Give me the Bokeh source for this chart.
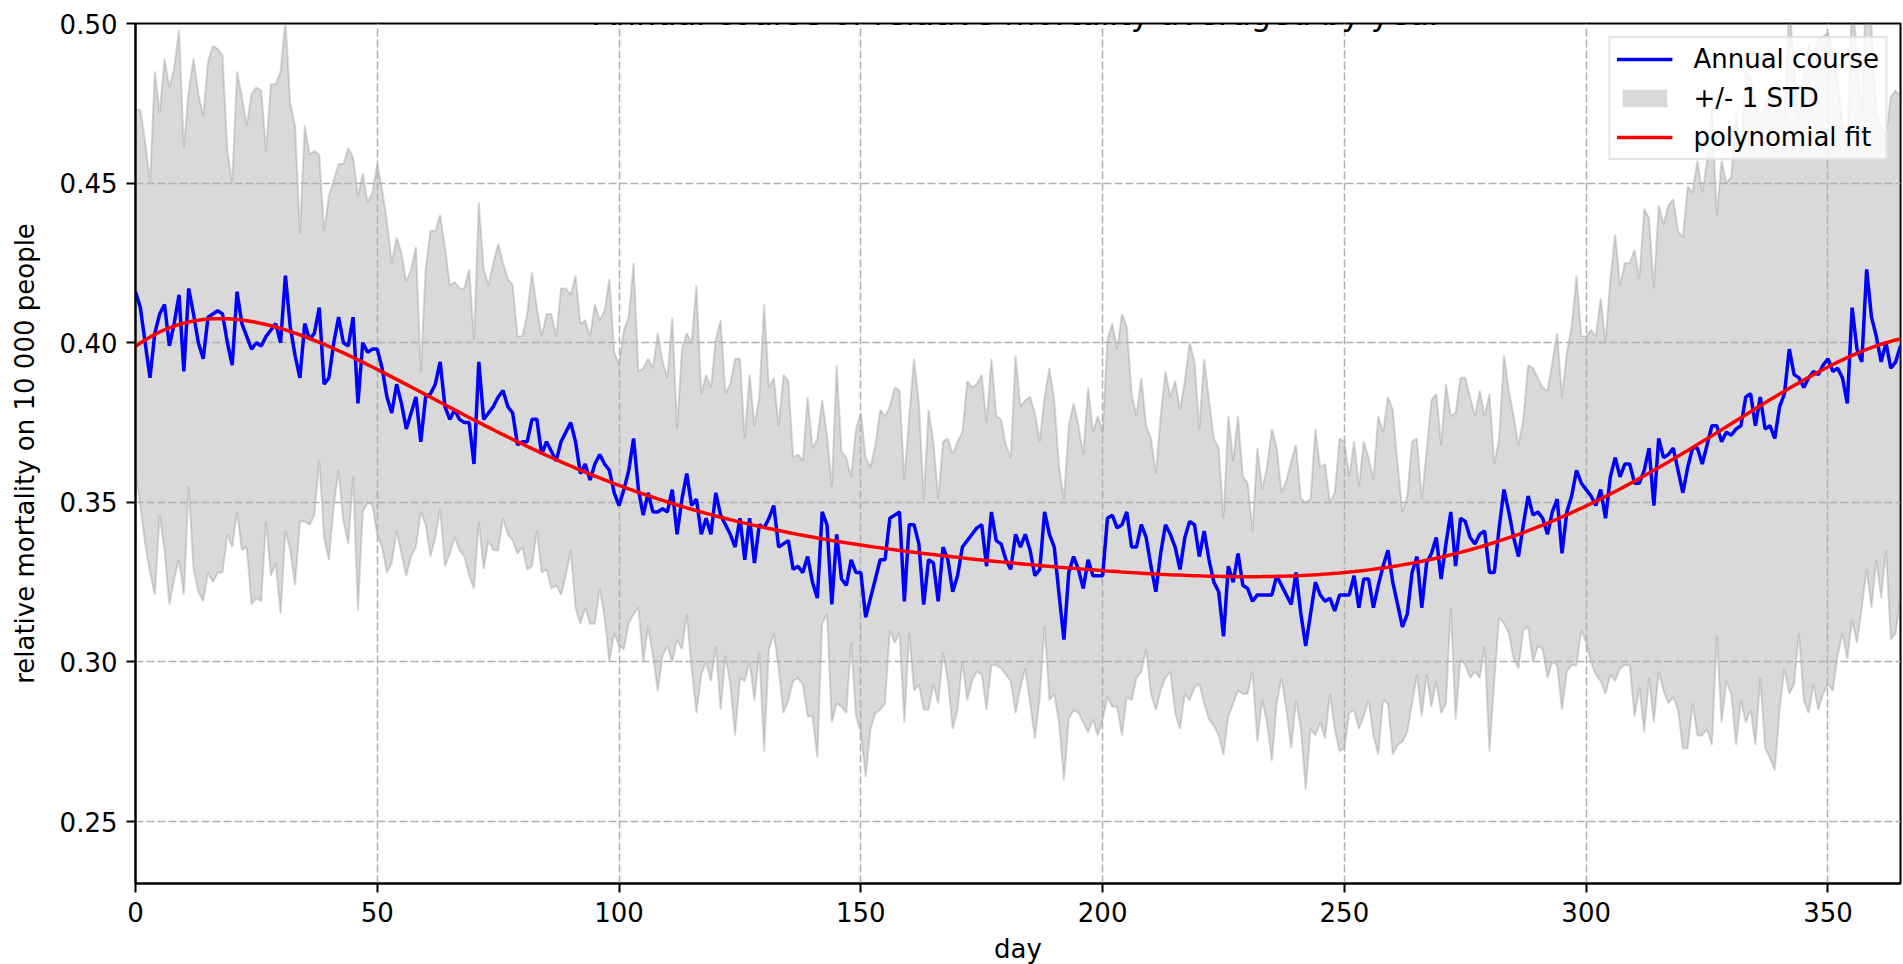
import numpy as np
from bokeh.plotting import figure
from bokeh.models import Label, Legend, LegendItem, FixedTicker
from bokeh.embed import file_html
from bokeh.resources import INLINE

# Day of year (0..365)
days = list(range(366))

# Mean relative mortality per day (per 10 000 people), averaged over years
mortality_mean = [
    0.416, 0.411, 0.400, 0.389, 0.403, 0.409, 0.412, 0.399, 0.406, 0.415,
    0.391, 0.417, 0.409, 0.400, 0.395, 0.408, 0.409, 0.410, 0.409, 0.400,
    0.393, 0.416, 0.406, 0.402, 0.398, 0.400, 0.399, 0.402, 0.404, 0.406,
    0.400, 0.421, 0.405, 0.396, 0.389, 0.406, 0.401, 0.403, 0.411, 0.387,
    0.389, 0.400, 0.408, 0.400, 0.399, 0.408, 0.381, 0.400, 0.397, 0.398,
    0.398, 0.392, 0.383, 0.378, 0.387, 0.381, 0.373, 0.378, 0.383, 0.369,
    0.383, 0.384, 0.387, 0.394, 0.380, 0.376, 0.379, 0.376, 0.375, 0.375,
    0.362, 0.394, 0.376, 0.378, 0.380, 0.383, 0.385, 0.380, 0.378, 0.368,
    0.369, 0.369, 0.376, 0.376, 0.365, 0.369, 0.366, 0.363, 0.369, 0.372,
    0.375, 0.369, 0.359, 0.362, 0.357, 0.362, 0.365, 0.362, 0.360, 0.353,
    0.349, 0.354, 0.360, 0.370, 0.354, 0.346, 0.353, 0.347, 0.347, 0.348,
    0.347, 0.354, 0.340, 0.351, 0.359, 0.349, 0.351, 0.340, 0.345, 0.340,
    0.353, 0.346, 0.343, 0.340, 0.336, 0.345, 0.332, 0.345, 0.331, 0.343,
    0.342, 0.345, 0.349, 0.336, 0.337, 0.338, 0.329, 0.330, 0.328, 0.333,
    0.325, 0.320, 0.347, 0.343, 0.318, 0.340, 0.326, 0.324, 0.332, 0.328,
    0.328, 0.314, 0.320, 0.326, 0.332, 0.332, 0.345, 0.346, 0.347, 0.319,
    0.343, 0.343, 0.337, 0.318, 0.332, 0.331, 0.319, 0.336, 0.332, 0.322,
    0.327, 0.336, 0.338, 0.340, 0.342, 0.343, 0.330, 0.347, 0.338, 0.337,
    0.332, 0.329, 0.340, 0.336, 0.340, 0.335, 0.327, 0.329, 0.347, 0.340,
    0.336, 0.321, 0.307, 0.328, 0.333, 0.329, 0.323, 0.332, 0.327, 0.327,
    0.327, 0.345, 0.346, 0.342, 0.343, 0.347, 0.336, 0.336, 0.343, 0.339,
    0.330, 0.322, 0.334, 0.343, 0.340, 0.336, 0.329, 0.339, 0.344, 0.343,
    0.333, 0.341, 0.332, 0.325, 0.322, 0.308, 0.330, 0.325, 0.334, 0.324,
    0.323, 0.319, 0.321, 0.321, 0.321, 0.321, 0.327, 0.324, 0.321, 0.318,
    0.328, 0.315, 0.305, 0.315, 0.325, 0.321, 0.319, 0.320, 0.316, 0.321,
    0.321, 0.321, 0.327, 0.317, 0.326, 0.326, 0.317, 0.324, 0.330, 0.335,
    0.325, 0.318, 0.311, 0.315, 0.328, 0.333, 0.317, 0.331, 0.334, 0.339,
    0.326, 0.337, 0.347, 0.330, 0.345, 0.344, 0.339, 0.337, 0.340, 0.341,
    0.328, 0.328, 0.342, 0.354, 0.347, 0.339, 0.333, 0.343, 0.352, 0.346,
    0.347, 0.345, 0.340, 0.347, 0.351, 0.334, 0.347, 0.352, 0.360, 0.356,
    0.354, 0.352, 0.349, 0.354, 0.345, 0.358, 0.364, 0.358, 0.362, 0.362,
    0.356, 0.356, 0.360, 0.367, 0.349, 0.370, 0.364, 0.365, 0.367, 0.360,
    0.353, 0.361, 0.367, 0.367, 0.362, 0.368, 0.374, 0.374, 0.369, 0.372,
    0.371, 0.373, 0.374, 0.383, 0.384, 0.374, 0.383, 0.373, 0.374, 0.370,
    0.380, 0.384, 0.398, 0.390, 0.389, 0.386, 0.389, 0.391, 0.390, 0.393,
    0.395, 0.391, 0.392, 0.389, 0.381, 0.411, 0.398, 0.394, 0.423, 0.408,
    0.402, 0.394, 0.400, 0.392, 0.394, 0.399,
]

# Standard deviation across years for each day
mortality_std = [
    0.057, 0.062, 0.063, 0.061, 0.082, 0.063, 0.077, 0.081, 0.080, 0.083,
    0.070, 0.062, 0.080, 0.078, 0.076, 0.080, 0.084, 0.082, 0.081, 0.060,
    0.057, 0.069, 0.071, 0.066, 0.080, 0.080, 0.080, 0.058, 0.077, 0.075,
    0.085, 0.080, 0.070, 0.072, 0.045, 0.062, 0.058, 0.057, 0.048, 0.048,
    0.057, 0.051, 0.048, 0.056, 0.062, 0.050, 0.065, 0.053, 0.047, 0.049,
    0.058, 0.056, 0.055, 0.047, 0.046, 0.047, 0.046, 0.045, 0.047, 0.022,
    0.040, 0.051, 0.048, 0.046, 0.050, 0.042, 0.040, 0.041, 0.042, 0.048,
    0.039, 0.050, 0.047, 0.040, 0.045, 0.048, 0.040, 0.040, 0.040, 0.034,
    0.033, 0.040, 0.046, 0.035, 0.037, 0.040, 0.043, 0.039, 0.048, 0.045,
    0.040, 0.052, 0.047, 0.045, 0.045, 0.050, 0.042, 0.048, 0.060, 0.044,
    0.044, 0.050, 0.048, 0.055, 0.037, 0.046, 0.042, 0.045, 0.056, 0.046,
    0.042, 0.054, 0.033, 0.047, 0.044, 0.051, 0.067, 0.044, 0.045, 0.046,
    0.048, 0.061, 0.041, 0.047, 0.059, 0.050, 0.038, 0.045, 0.043, 0.040,
    0.070, 0.041, 0.040, 0.038, 0.053, 0.050, 0.035, 0.035, 0.035, 0.050,
    0.042, 0.050, 0.035, 0.028, 0.037, 0.053, 0.040, 0.040, 0.026, 0.045,
    0.050, 0.050, 0.041, 0.042, 0.047, 0.045, 0.035, 0.040, 0.038, 0.038,
    0.034, 0.052, 0.044, 0.033, 0.047, 0.038, 0.032, 0.033, 0.038, 0.043,
    0.042, 0.036, 0.050, 0.046, 0.045, 0.047, 0.045, 0.048, 0.039, 0.039,
    0.036, 0.035, 0.056, 0.044, 0.042, 0.048, 0.051, 0.040, 0.036, 0.052,
    0.046, 0.040, 0.044, 0.046, 0.048, 0.045, 0.042, 0.054, 0.045, 0.050,
    0.045, 0.056, 0.060, 0.056, 0.066, 0.058, 0.048, 0.041, 0.046, 0.035,
    0.040, 0.037, 0.043, 0.048, 0.043, 0.052, 0.050, 0.049, 0.056, 0.051,
    0.040, 0.054, 0.050, 0.045, 0.045, 0.037, 0.047, 0.038, 0.043, 0.034,
    0.033, 0.022, 0.046, 0.033, 0.040, 0.052, 0.040, 0.029, 0.036, 0.045,
    0.040, 0.036, 0.045, 0.036, 0.048, 0.040, 0.043, 0.030, 0.037, 0.049,
    0.048, 0.037, 0.042, 0.038, 0.043, 0.038, 0.040, 0.053, 0.042, 0.048,
    0.054, 0.044, 0.036, 0.037, 0.041, 0.037, 0.034, 0.035, 0.048, 0.045,
    0.042, 0.050, 0.030, 0.048, 0.044, 0.045, 0.044, 0.040, 0.045, 0.036,
    0.056, 0.034, 0.028, 0.042, 0.038, 0.038, 0.035, 0.033, 0.041, 0.046,
    0.042, 0.041, 0.045, 0.047, 0.052, 0.049, 0.050, 0.053, 0.061, 0.046,
    0.048, 0.052, 0.053, 0.060, 0.055, 0.062, 0.070, 0.060, 0.063, 0.063,
    0.073, 0.064, 0.082, 0.072, 0.068, 0.073, 0.073, 0.078, 0.078, 0.075,
    0.080, 0.088, 0.080, 0.090, 0.085, 0.089, 0.100, 0.066, 0.088, 0.078,
    0.081, 0.099, 0.086, 0.102, 0.099, 0.100, 0.088, 0.100, 0.104, 0.104,
    0.095, 0.086, 0.108, 0.097, 0.080, 0.098, 0.105, 0.098, 0.105, 0.103,
    0.102, 0.100, 0.090, 0.080, 0.080, 0.098, 0.092, 0.077, 0.094, 0.091,
    0.070, 0.074, 0.065, 0.085, 0.085, 0.078,
]

x_ticks = [0, 50, 100, 150, 200, 250, 300, 350]
y_ticks = [0.25, 0.30, 0.35, 0.40, 0.45, 0.50]
y_tick_labels = ["0.25", "0.30", "0.35", "0.40", "0.45", "0.50"]

title_text = "Annual course of relative mortality averaged by year"
x_label = "day"
y_label = "relative mortality on 10 000 people"

FONT = "DejaVu Sans"

mean = np.array(mortality_mean)
std = np.array(mortality_std)
upper = mean + std
lower = mean - std

# 6th degree polynomial fitted to the daily means
fit = np.polyval(np.polyfit(days, mean, 6), days)

x_lo, x_hi = 0, 365
y_lo, y_hi = 0.2306, 0.50

p = figure(
    frame_width=1765, frame_height=860,
    min_border_left=135, min_border_right=3,
    min_border_top=23, min_border_bottom=81,
    x_range=(x_lo, x_hi), y_range=(y_lo, y_hi),
    output_backend="svg", toolbar_location=None,
    background_fill_color="white", border_fill_color="white",
)

# +/- 1 STD band, drawn beneath the grid like a matplotlib fill_between
band = p.varea(x=days, y1=lower, y2=upper, fill_color="gray", fill_alpha=0.3, level="image")
p.line(days, upper, line_color="gray", line_alpha=0.3, line_width=2, level="image")
p.line(days, lower, line_color="gray", line_alpha=0.3, line_width=2, level="image")

course = p.line(days, mean, line_color="blue", line_width=3.5)
poly = p.line(days, fit, line_color="red", line_width=3.5)

# axes
for ax in (p.xaxis[0], p.yaxis[0]):
    ax.axis_line_color = "black"
    ax.axis_line_width = 2
    ax.major_tick_line_color = "black"
    ax.major_tick_line_width = 2
    ax.major_tick_out = 9
    ax.major_tick_in = 0
    ax.minor_tick_line_color = None
    ax.major_label_standoff = 9
    ax.major_label_text_font = FONT
    ax.major_label_text_font_size = "26px"
    ax.major_label_text_color = "black"
    ax.axis_label_text_font = FONT
    ax.axis_label_text_font_size = "26px"
    ax.axis_label_text_font_style = "normal"
    ax.axis_label_text_color = "black"

p.xaxis.ticker = FixedTicker(ticks=x_ticks)
p.yaxis.ticker = FixedTicker(ticks=y_ticks)
p.yaxis.major_label_overrides = dict(zip(y_ticks, y_tick_labels))
p.xaxis.axis_label = x_label
p.yaxis.axis_label = y_label
p.xaxis.axis_label_standoff = 9
p.yaxis.axis_label_standoff = 17

p.outline_line_color = "black"
p.outline_line_width = 2
p.outline_line_alpha = 1

for g in (p.xgrid[0], p.ygrid[0]):
    g.grid_line_color = "#b0b0b0"
    g.grid_line_width = 1.5
    g.grid_line_dash = "8 3"

legend = Legend(
    items=[
        LegendItem(label="Annual course", renderers=[course]),
        LegendItem(label="+/- 1 STD", renderers=[band]),
        LegendItem(label="polynomial fit", renderers=[poly]),
    ],
    location="top_right",
    margin=13,
    padding=6,
    spacing=9,
    glyph_width=56,
    glyph_height=22,
    label_height=26,
    label_standoff=21,
    label_text_font=FONT,
    label_text_font_size="26px",
    label_text_color="black",
    border_line_color="#cccccc",
    border_line_width=2,
    background_fill_color="white",
    background_fill_alpha=0.8,
)
p.add_layout(legend)

# title sits just above the frame; the top of it runs off the page
title = Label(
    x=(x_lo + x_hi) / 2, y=y_hi, x_units="data", y_units="data",
    y_offset=10, text=title_text,
    text_align="center", text_baseline="alphabetic",
    text_font=FONT, text_font_size="32px", text_color="black",
)
p.add_layout(title)

open("out.html", "w").write(file_html(p, INLINE))
